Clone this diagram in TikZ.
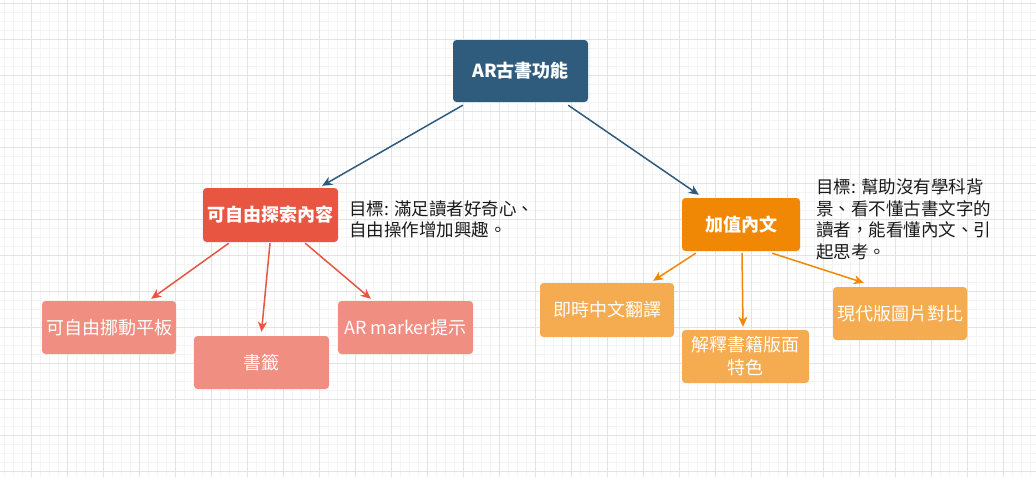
\documentclass[tikz,border=0pt]{standalone}
\usepackage{fontspec}
\setmainfont{Noto Sans CJK TC}
\usetikzlibrary{arrows.meta}
\definecolor{darkblue}{HTML}{2F5B7C}
\definecolor{redmain}{HTML}{E85642}
\definecolor{redlight}{HTML}{F08E81}
\definecolor{orgmain}{HTML}{F08705}
\definecolor{orglight}{HTML}{F5AB50}
\definecolor{gridmaj}{HTML}{E3E3E3}
\definecolor{gridmin}{HTML}{F4F4F4}
\definecolor{anntext}{HTML}{1A1A1A}
\tikzset{
  box/.style={rounded corners=3.5pt, draw=none, text=white, inner sep=0pt, align=center,
    font=\fontsize{18}{23}\selectfont},
  mainbox/.style={box, font=\fontsize{18}{23}\selectfont\bfseries},
  ann/.style={anchor=west, align=left, inner sep=0pt, text=anntext, font=\fontsize{17.5}{21.6}\selectfont},
  arr/.style={-{Stealth[length=10pt,width=9pt,inset=3pt]}, line width=1.5pt},
}
\begin{document}
\begin{tikzpicture}[x=1pt,y=-1pt]
\useasboundingbox (0,0) rectangle (1036,477);
\fill[white] (0,0) rectangle (1036,477);
% grid
\foreach \i in {0,...,116} {
  \draw[gridmin, line width=0.8pt] ({-4.3+9*\i},0) -- ({-4.3+9*\i},477);
}
\foreach \i in {0,...,53} {
  \draw[gridmin, line width=0.8pt] (0,{3.3+9*\i}) -- (1036,{3.3+9*\i});
}
\foreach \i in {0,...,29} {
  \draw[gridmaj, line width=1pt] ({-4.3+36*\i},0) -- ({-4.3+36*\i},477);
}
\foreach \i in {0,...,13} {
  \draw[gridmaj, line width=1pt] (0,{3.3+36*\i}) -- (1036,{3.3+36*\i});
}
% nodes
\node[mainbox, fill=darkblue, minimum width=135pt, minimum height=62pt] (top) at (520.5,71) {AR古書功能};
\node[mainbox, fill=redmain, minimum width=135pt, minimum height=54pt] (red) at (270.5,215) {可自由探索內容};
\node[mainbox, fill=orgmain, minimum width=118pt, minimum height=53pt] (org) at (741,224.5) {加值內文};
\node[box, fill=redlight, minimum width=134pt, minimum height=53pt] (c1) at (109,327.5) {可自由挪動平板};
\node[box, fill=redlight, minimum width=135pt, minimum height=53pt] (c2) at (261.5,362.5) {書籤};
\node[box, fill=redlight, minimum width=135pt, minimum height=53pt] (c3) at (405.5,327.5) {AR marker提示};
\node[box, fill=orglight, minimum width=134pt, minimum height=54pt] (o1) at (607,310) {即時中文翻譯};
\node[box, fill=orglight, minimum width=127pt, minimum height=53pt] (o2) at (745.5,356.5) {解釋書籍版面\\特色};
\node[box, fill=orglight, minimum width=134pt, minimum height=53pt] (o3) at (900,313.5) {現代版圖片對比};
% annotations
\node[ann] (ann1) at (349,219.5) {目標: 滿足讀者好奇心、\\自由操作增加興趣。};
\node[ann] (ann2) at (816,219.5) {目標: 幫助沒有學科背\\景、看不懂古書文字的\\讀者，能看懂內文、引\\起思考。};
% connectors
\draw[arr, darkblue] ([xshift=10pt,yshift=-3pt]top.south west) -- ([xshift=-16pt,yshift=2pt]red.north east);
\draw[arr, darkblue] ([xshift=-20pt,yshift=-3pt]top.south east) -- ([xshift=17pt,yshift=3pt]org.north west);
\draw[arr, redmain] ([xshift=26pt,yshift=-1pt]red.south west) -- ([xshift=-25pt,yshift=2pt]c1.north east);
\draw[arr, redmain] ([xshift=-0.5pt,yshift=-1pt]red.south) -- ([xshift=0pt,yshift=4pt]c2.north);
\draw[arr, redmain] ([xshift=-33pt,yshift=-1pt]red.south east) -- ([xshift=33pt,yshift=2pt]c3.north west);
\draw[arr, orgmain] ([xshift=14pt,yshift=-2pt]org.south west) -- ([xshift=-21pt,yshift=2pt]o1.north east);
\draw[arr, orgmain] ([xshift=1pt,yshift=-2pt]org.south) -- ([xshift=-2.5pt,yshift=3pt]o2.north);
\draw[arr, orgmain] ([xshift=-28pt,yshift=-2pt]org.south east) -- ([xshift=31pt,yshift=4pt]o3.north west);
\end{tikzpicture}
\end{document}
